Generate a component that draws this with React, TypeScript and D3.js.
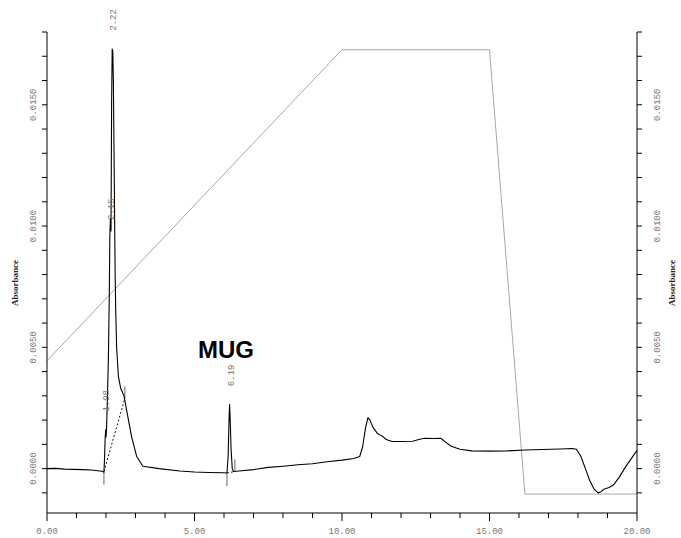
import React from "react";
import * as d3 from "d3";

const W = 681;
const H = 538;

// Chromatogram trace (time in min, absorbance)
const chromTime = [
  0.0, 0.3, 0.6, 0.9, 1.2, 1.5, 1.8, 1.9, 1.93, 1.95, 1.97, 1.99, 2.0, 2.02, 2.05, 2.08, 2.11, 2.13, 2.15,
  2.17, 2.19, 2.21, 2.23, 2.25, 2.28, 2.31, 2.33, 2.36, 2.42, 2.5, 2.61, 2.7, 2.87, 3.04, 3.25, 3.8,
  4.5, 5.0, 5.5, 6.0, 6.1, 6.14, 6.17, 6.19, 6.21, 6.24, 6.28, 6.32, 6.5, 7.0, 7.5, 8.0,
  8.5, 9.0, 9.5, 10.0, 10.4, 10.6, 10.7, 10.8, 10.88, 10.95, 11.05, 11.2, 11.35, 11.5, 11.7, 12.0, 12.4,
  12.6, 12.8, 13.1, 13.35, 13.5, 13.7, 14.0, 14.4, 15.0, 15.6, 16.2, 16.8, 17.4, 17.8, 17.95, 18.1, 18.25,
  18.4, 18.55, 18.68, 18.78, 18.88, 19.05, 19.2, 19.4, 19.6, 19.8, 20.0,
];
const chromAbs = [
  0.0, 0.00001, -0.00002, -0.00003, -0.00004, -0.00006, -0.0001, -0.00012, -0.00015, 0.0004, 0.0012,
  0.0016, 0.0013, 0.0017, 0.003, 0.0045, 0.007, 0.0096, 0.0103, 0.0098, 0.015, 0.0173, 0.0172, 0.016,
  0.012, 0.008, 0.0065, 0.005, 0.0038, 0.0033, 0.003, 0.0024, 0.0013, 0.0005, 0.0001, 0.0,
  -0.0001, -0.00014, -0.00016, -0.00017, -0.00018, 0.0005, 0.002, 0.00265,
  0.002, 0.0008, 0.0, -0.00012, -0.0001, -0.00004, 0.00005, 0.0001, 0.00016, 0.0002, 0.00028, 0.00035,
  0.00042, 0.0005, 0.0009, 0.0017, 0.0021, 0.002, 0.0017, 0.00145, 0.00135, 0.0012, 0.00112, 0.00112,
  0.00113, 0.0012, 0.00125, 0.00124, 0.00125, 0.0011, 0.00092, 0.0008, 0.00073, 0.00072, 0.00073,
  0.00077, 0.00079, 0.00081, 0.00083, 0.0008, 0.0005, 0.0, -0.0005, -0.00085, -0.001, -0.00095, -0.00085,
  -0.00078, -0.00068, -0.00035, 0.00005, 0.0004, 0.00075,
];

// Gradient program (time in min, %B)
const gradTime = [0, 10, 15, 16.2, 20];
const gradPct = [32, 95, 95, 5, 5];

// Integration baselines: start/end times and absorbance
const baseStartT = [1.93, 6.1];
const baseStartV = [-0.00012, -0.00018];
const baseEndT = [2.64, 6.37];
const baseEndV = [0.0029, -0.00012];

// Peak labels
const peakTimes = [2.22, 2.15, 1.98, 6.19];
const peakApex = [0.0173, 0.0095, 0.0016, 0.00265];
const peakNames = ["2.22", "2.15", "1.98", "6.19"];

// Axis ticks
const xMajor = [0, 5, 10, 15, 20];
const xMinor = d3.range(0, 21, 1);
const yMajor = [0, 0.005, 0.01, 0.015];
const yMinor = d3.range(-1, 19, 1).map((d) => d / 1000);

export default function App() {
  const left = 47, right = 637, top = 32, bottom = 513;
  const x = d3.scaleLinear().domain([0, 20]).range([left, right]);
  const y = d3.scaleLinear().domain([-0.00183, 0.018]).range([bottom, top]);
  const yG = d3.scaleLinear().domain([5, 95]).range([y(-0.00105), y(0.01727)]);

  const chrom = chromTime.map((t, i) => [t, chromAbs[i]] as [number, number]);
  const grad = gradTime.map((t, i) => [t, gradPct[i]] as [number, number]);

  const chromLine = d3.line<[number, number]>().x((d) => x(d[0])).y((d) => y(d[1]));
  const gradLine = d3.line<[number, number]>().x((d) => x(d[0])).y((d) => yG(d[1]));

  const mono = "'Liberation Mono', 'DejaVu Sans Mono', monospace";
  const fmtX = d3.format(".2f");
  const fmtY = d3.format(".4f");

  return (
    <svg width={W} height={H} style={{ position: "absolute", left: 0, top: 0, background: "#fff" }}>
      <rect width={W} height={H} fill="#fff" />
      {/* gradient line */}
      <path d={gradLine(grad) || ""} fill="none" stroke="#a8a8a8" strokeWidth={1} />

      {/* integration baselines */}
      {baseStartT.map((t, i) => (
        <g key={"b" + i}>
          <line x1={x(t)} y1={y(baseStartV[i])} x2={x(baseEndT[i])} y2={y(baseEndV[i])}
            stroke="#111" strokeWidth={1} strokeDasharray="2,2" />
          <line x1={x(t)} y1={y(baseStartV[i])} x2={x(t)} y2={y(baseStartV[i]) + 13} stroke="#666" strokeWidth={1} />
          <line x1={x(baseEndT[i])} y1={y(baseEndV[i])} x2={x(baseEndT[i])} y2={y(baseEndV[i]) - 12} stroke="#666" strokeWidth={1} />
        </g>
      ))}

      {/* chromatogram */}
      <path d={chromLine(chrom) || ""} fill="none" stroke="#000" strokeWidth={1.1} strokeLinejoin="round" />

      {/* axes */}
      <line x1={left} y1={top} x2={left} y2={bottom} stroke="#000" strokeWidth={1} />
      <line x1={right} y1={top} x2={right} y2={bottom} stroke="#000" strokeWidth={1} />
      <line x1={left} y1={bottom} x2={right} y2={bottom} stroke="#000" strokeWidth={1} />

      {xMinor.map((t) => (
        <line key={"xm" + t} x1={x(t)} x2={x(t)} y1={bottom} y2={bottom + (t % 5 === 0 ? 8 : 5)} stroke="#000" />
      ))}
      {xMajor.map((t) => (
        <text key={"xl" + t} x={x(t)} y={534} textAnchor="middle" fontFamily={mono} fontSize={9} fill="#777">
          {fmtX(t)}
        </text>
      ))}

      {yMinor.map((v) => (
        <g key={"ym" + v}>
          <line x1={left - 5} x2={left} y1={y(v)} y2={y(v)} stroke="#000" />
          <line x1={right} x2={right + 5} y1={y(v)} y2={y(v)} stroke="#000" />
        </g>
      ))}
      {yMajor.map((v) => (
        <g key={"yl" + v}>
          <text transform={`translate(${33.5},${y(v)}) rotate(-90)`} textAnchor="middle" dominantBaseline="central"
            fontFamily={mono} fontSize={9} fill="#777">{fmtY(v)}</text>
          <text transform={`translate(${658},${y(v)}) rotate(-90)`} textAnchor="middle" dominantBaseline="central"
            fontFamily={mono} fontSize={9} fill="#777">{fmtY(v)}</text>
        </g>
      ))}

      <text transform={`translate(15,283) rotate(-90)`} textAnchor="middle" dominantBaseline="central"
        fontFamily="'Liberation Serif', serif" fontWeight="bold" fontSize={9} fill="#222">Absorbance</text>
      <text transform={`translate(672,283) rotate(-90)`} textAnchor="middle" dominantBaseline="central"
        fontFamily="'Liberation Serif', serif" fontWeight="bold" fontSize={9} fill="#222">Absorbance</text>

      {/* peak labels */}
      {peakTimes.map((t, i) => (
        <text key={"p" + i} transform={`translate(${x(t) + 2},${y(peakApex[i]) - 29}) rotate(-90)`}
          textAnchor="middle" dominantBaseline="central" fontFamily={mono} fontSize={9} fill="#777">
          {peakNames[i]}
        </text>
      ))}

      <text x={226} y={358} textAnchor="middle" fontFamily="'Liberation Sans', Arial, sans-serif"
        fontWeight="bold" fontSize={24} fill="#000">MUG</text>
    </svg>
  );
}
